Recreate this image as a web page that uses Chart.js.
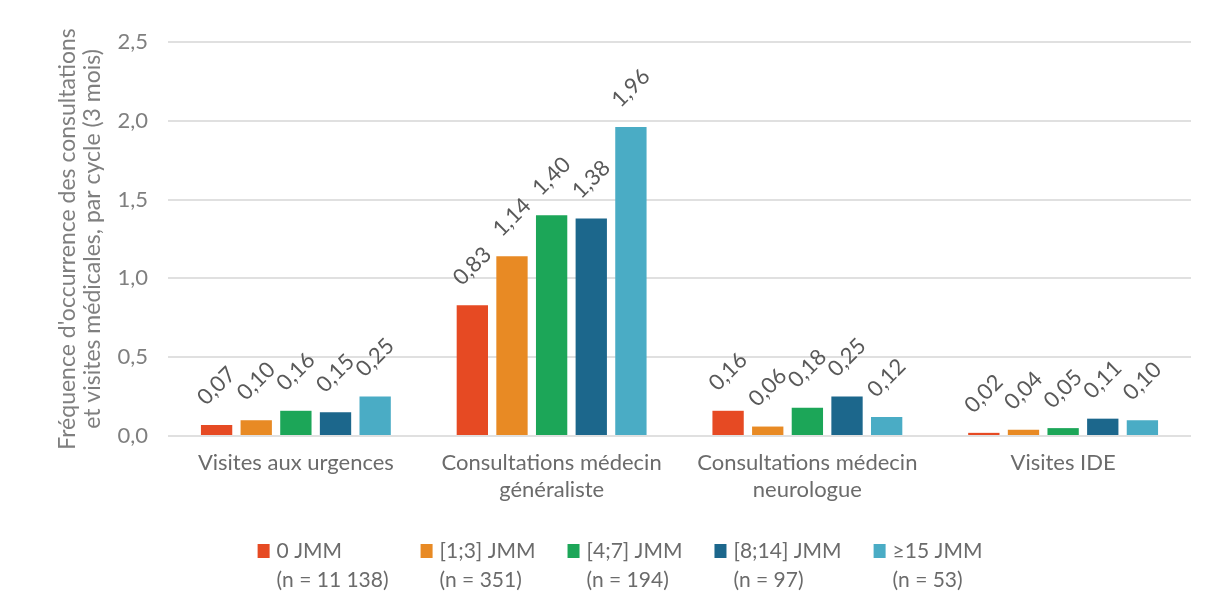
<!DOCTYPE html>
<html>
<head>
<meta charset="utf-8">
<script src="https://cdn.jsdelivr.net/npm/chart.js@4.4.1/dist/chart.umd.min.js"></script>
<style>
  html, body { margin: 0; padding: 0; background: #ffffff; }
  #wrap { position: relative; width: 1206px; height: 610px; }
</style>
</head>
<body>
<div id="wrap"><canvas id="c" width="1206" height="610"></canvas></div>
<script>
// Categories (multi-line axis labels)
const categories = [
  ["Visites aux urgences"],
  ["Consultations médecin", "généraliste"],
  ["Consultations médecin", "neurologue"],
  ["Visites IDE"]
];

// Series names and group sizes
const seriesNames = ["0 JMM", "[1;3] JMM", "[4;7] JMM", "[8;14] JMM", "≥15 JMM"];
const seriesCounts = ["(n = 11 138)", "(n = 351)", "(n = 194)", "(n = 97)", "(n = 53)"];

// Mean number of visits per 3-month cycle, one array per JMM group
const jmm0      = [0.07, 0.83, 0.16, 0.02];
const jmm1to3   = [0.10, 1.14, 0.06, 0.04];
const jmm4to7   = [0.16, 1.40, 0.18, 0.05];
const jmm8to14  = [0.15, 1.38, 0.25, 0.11];
const jmm15plus = [0.25, 1.96, 0.12, 0.10];

// Y axis ticks and title
const yTicks = [0, 0.5, 1.0, 1.5, 2.0, 2.5];
const yTitle = ["Fréquence d'occurrence des consultations", "et visites médicales, par cycle (3 mois)"];

const seriesValues = [jmm0, jmm1to3, jmm4to7, jmm8to14, jmm15plus];
const seriesColors = ["#E64A23", "#E88A24", "#1CA658", "#1C678C", "#4AACC5"];

const FONT = "Lato";
const frNumber = (v, d) => v.toFixed(d).replace(".", ",");

// Rotated value labels above each bar
const valueLabels = {
  id: "valueLabels",
  afterDatasetsDraw(chart) {
    const ctx = chart.ctx;
    ctx.save();
    ctx.font = "22px " + FONT;
    ctx.fillStyle = "#595959";
    ctx.textAlign = "center";
    ctx.textBaseline = "middle";
    chart.data.datasets.forEach((ds, di) => {
      chart.getDatasetMeta(di).data.forEach((bar, i) => {
        const txt = frNumber(ds.data[i], 2);
        ctx.save();
        ctx.translate(bar.x, bar.y - 39);
        ctx.rotate(-Math.PI / 4);
        ctx.fillText(txt, 0, 0);
        ctx.restore();
      });
    });
    ctx.restore();
  }
};

// Two-line legend under the axis
const twoLineLegend = {
  id: "twoLineLegend",
  afterDraw(chart) {
    const ctx = chart.ctx;
    const ds = chart.data.datasets;
    ctx.save();
    ctx.font = "21px " + FONT;
    ctx.textBaseline = "middle";
    ctx.textAlign = "left";
    const box = 12, boxGap = 7, itemGap = 32;
    const widths = ds.map((d, i) => box + boxGap + Math.max(
      ctx.measureText(seriesNames[i]).width,
      ctx.measureText(seriesCounts[i]).width));
    const total = widths.reduce((a, b) => a + b, 0) + itemGap * (ds.length - 1);
    let x = 620 - total / 2;
    const y1 = 551, y2 = 580;
    ds.forEach((d, i) => {
      ctx.fillStyle = d.backgroundColor;
      ctx.fillRect(x, y1 - 7, box, 14);
      ctx.fillStyle = "#6b6b6b";
      ctx.fillText(seriesNames[i], x + box + boxGap, y1);
      ctx.fillText(seriesCounts[i], x + box + boxGap, y2);
      x += widths[i] + itemGap;
    });
    ctx.restore();
  }
};

new Chart(document.getElementById("c"), {
  type: "bar",
  data: {
    labels: categories,
    datasets: seriesNames.map((name, i) => ({
      label: name,
      data: seriesValues[i],
      backgroundColor: seriesColors[i],
      borderWidth: 0,
      categoryPercentage: 0.775,
      barPercentage: 0.79
    }))
  },
  options: {
    responsive: false,
    animation: false,
    devicePixelRatio: 1,
    layout: { padding: { left: 0, top: 42, right: 15, bottom: 100 } },
    plugins: {
      legend: { display: false },
      tooltip: { enabled: false }
    },
    scales: {
      x: {
        grid: { display: false, drawTicks: false },
        border: { display: false },
        ticks: {
          color: "#6b6b6b",
          font: { family: FONT, size: 22, lineHeight: 1.2 },
          padding: 14,
          maxRotation: 0,
          autoSkip: false
        },
        afterFit(scale) { scale.height = 74; }
      },
      y: {
        min: 0,
        max: 2.5,
        afterBuildTicks(scale) { scale.ticks = yTicks.map(v => ({ value: v })); },
        grid: { color: "#e0e0e0", lineWidth: 2, drawTicks: false },
        border: { display: false },
        ticks: {
          color: "#7f7f7f",
          font: { family: FONT, size: 22 },
          padding: 20,
          callback: v => frNumber(v, 1)
        },
        title: {
          display: true,
          text: yTitle,
          color: "#7f7f7f",
          font: { family: FONT, size: 23, lineHeight: 1.1 },
          padding: { top: 55, bottom: 0 }
        },
        afterFit(scale) { scale.width = 168; }
      }
    }
  },
  plugins: [valueLabels, twoLineLegend]
});
</script>
</body>
</html>
